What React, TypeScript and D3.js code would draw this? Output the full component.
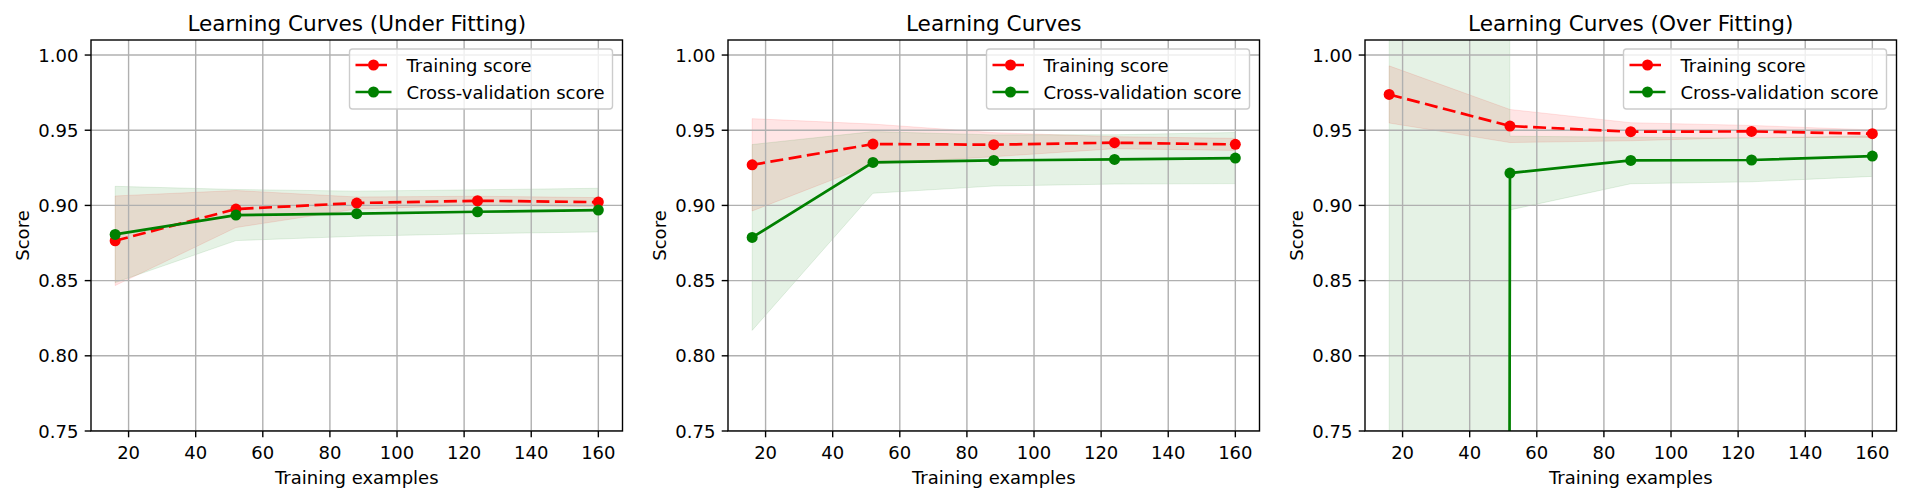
import * as d3 from "d3";
import { useRef, useEffect } from "react";

const trainSizes = [16, 52, 88, 124, 160];
const titles = [
  "Learning Curves (Under Fitting)",
  "Learning Curves",
  "Learning Curves (Over Fitting)",
];
const xTicks = [20, 40, 60, 80, 100, 120, 140, 160];
const yTicks = [0.75, 0.8, 0.85, 0.9, 0.95, 1.0];
const legendLabels = ["Training score", "Cross-validation score"];

// under fitting
const underTrainMean = [0.8765, 0.8976, 0.9016, 0.9031, 0.9022];
const underTrainStd = [0.0298, 0.0123, 0.004, 0.003, 0.003];
const underTestMean = [0.8807, 0.8936, 0.8945, 0.8958, 0.8969];
const underTestStd = [0.032, 0.017, 0.015, 0.0146, 0.0145];

// good fit
const fitTrainMean = [0.927, 0.9408, 0.9404, 0.9417, 0.9406];
const fitTrainStd = [0.0307, 0.0133, 0.008, 0.004, 0.004];
const fitTestMean = [0.8787, 0.9286, 0.9299, 0.9306, 0.9315];
const fitTestStd = [0.0618, 0.0205, 0.017, 0.0164, 0.017];

// over fitting (first cv score is far off the chart)
const overTrainMean = [0.9738, 0.9528, 0.949, 0.9492, 0.9477];
const overTrainStd = [0.019, 0.011, 0.006, 0.004, 0.0025];
const overTestMean = [-50, 0.9215, 0.9299, 0.9302, 0.9328];
const overTestStd = [100, 0.0245, 0.0155, 0.0145, 0.0135];

const panels = [
  { title: titles[0], trainMean: underTrainMean, trainStd: underTrainStd, testMean: underTestMean, testStd: underTestStd },
  { title: titles[1], trainMean: fitTrainMean, trainStd: fitTrainStd, testMean: fitTestMean, testStd: fitTestStd },
  { title: titles[2], trainMean: overTrainMean, trainStd: overTrainStd, testMean: overTestMean, testStd: overTestStd },
];

const lefts = [91, 728, 1365];
const axWidth = 531.5;
const top = 40;
const bottom = 431;
const font = "DejaVu Sans, sans-serif";
const fs = 18;
const lineW = 2.7;
const dash = "13,5.5";

export default function App() {
  const ref = useRef(null);

  useEffect(() => {
    const svg = d3.select(ref.current);
    svg.selectAll("*").remove();
    svg.append("rect").attr("width", 1911).attr("height", 500).attr("fill", "white");

    const xMin = d3.min(trainSizes);
    const xMax = d3.max(trainSizes);
    const pad = (xMax - xMin) * 0.05;

    panels.forEach((p, i) => {
      const left = lefts[i];
      const right = left + axWidth;
      const x = d3.scaleLinear().domain([xMin - pad, xMax + pad]).range([left, right]);
      const y = d3.scaleLinear().domain([0.75, 1.01]).range([bottom, top]);

      const g = svg.append("g");
      const clipId = "clip" + i;
      g.append("clipPath")
        .attr("id", clipId)
        .append("rect")
        .attr("x", left)
        .attr("y", top)
        .attr("width", axWidth)
        .attr("height", bottom - top);

      const plot = g.append("g").attr("clip-path", `url(#${clipId})`);

      const rows = trainSizes.map((s, k) => ({
        s,
        tr: p.trainMean[k],
        trs: p.trainStd[k],
        te: p.testMean[k],
        tes: p.testStd[k],
      }));

      const bandTrain = d3.area().x((d) => x(d.s)).y0((d) => y(d.tr - d.trs)).y1((d) => y(d.tr + d.trs));
      const bandTest = d3.area().x((d) => x(d.s)).y0((d) => y(d.te - d.tes)).y1((d) => y(d.te + d.tes));

      plot.append("path").attr("d", bandTrain(rows))
        .attr("fill", "rgba(255,0,0,0.1)").attr("stroke", "rgba(255,0,0,0.1)").attr("stroke-width", 1);
      plot.append("path").attr("d", bandTest(rows))
        .attr("fill", "rgba(0,128,0,0.1)").attr("stroke", "rgba(0,128,0,0.1)").attr("stroke-width", 1);

      // grid
      plot.selectAll(".gx").data(xTicks).enter().append("line")
        .attr("x1", (d) => x(d)).attr("x2", (d) => x(d)).attr("y1", top).attr("y2", bottom)
        .attr("stroke", "#b0b0b0").attr("stroke-width", 1.4);
      plot.selectAll(".gy").data(yTicks).enter().append("line")
        .attr("y1", (d) => y(d)).attr("y2", (d) => y(d)).attr("x1", left).attr("x2", right)
        .attr("stroke", "#b0b0b0").attr("stroke-width", 1.4);

      const lineTrain = d3.line().x((d) => x(d.s)).y((d) => y(d.tr));
      const lineTest = d3.line().x((d) => x(d.s)).y((d) => y(d.te));

      plot.append("path").attr("d", lineTrain(rows)).attr("fill", "none")
        .attr("stroke", "#ff0000").attr("stroke-width", lineW).attr("stroke-dasharray", dash);
      plot.selectAll(".mt").data(rows).enter().append("circle")
        .attr("cx", (d) => x(d.s)).attr("cy", (d) => y(d.tr)).attr("r", 5.5).attr("fill", "#ff0000");

      plot.append("path").attr("d", lineTest(rows)).attr("fill", "none")
        .attr("stroke", "#008000").attr("stroke-width", lineW);
      plot.selectAll(".mc").data(rows).enter().append("circle")
        .attr("cx", (d) => x(d.s)).attr("cy", (d) => y(d.te)).attr("r", 5.5).attr("fill", "#008000");

      // spines
      g.append("rect").attr("x", left).attr("y", top).attr("width", axWidth).attr("height", bottom - top)
        .attr("fill", "none").attr("stroke", "#000").attr("stroke-width", 1.4);

      // ticks
      xTicks.forEach((t) => {
        g.append("line").attr("x1", x(t)).attr("x2", x(t)).attr("y1", bottom).attr("y2", bottom + 6.3)
          .attr("stroke", "#000").attr("stroke-width", 1.4);
        g.append("text").attr("x", x(t)).attr("y", bottom + 27.5).attr("text-anchor", "middle")
          .attr("font-family", font).attr("font-size", fs).attr("fill", "#000").text(t);
      });
      yTicks.forEach((t) => {
        g.append("line").attr("x1", left - 6.3).attr("x2", left).attr("y1", y(t)).attr("y2", y(t))
          .attr("stroke", "#000").attr("stroke-width", 1.4);
        g.append("text").attr("x", left - 12.6).attr("y", y(t) + 6.5).attr("text-anchor", "end")
          .attr("font-family", font).attr("font-size", fs).attr("fill", "#000").text(d3.format(".2f")(t));
      });

      g.append("text").attr("x", (left + right) / 2).attr("y", 31).attr("text-anchor", "middle")
        .attr("font-family", font).attr("font-size", 21.6).attr("fill", "#000").text(p.title);
      g.append("text").attr("x", (left + right) / 2).attr("y", 484).attr("text-anchor", "middle")
        .attr("font-family", font).attr("font-size", fs).attr("fill", "#000").text("Training examples");
      g.append("text").attr("transform", `translate(${left - 62},${(top + bottom) / 2}) rotate(-90)`)
        .attr("text-anchor", "middle").attr("font-family", font).attr("font-size", fs).attr("fill", "#000")
        .text("Score");

      // legend
      const lw = 263;
      const lx = right - 10 - lw;
      const ly = top + 9;
      const leg = g.append("g");
      leg.append("rect").attr("x", lx).attr("y", ly).attr("width", lw).attr("height", 60).attr("rx", 3)
        .attr("fill", "rgba(255,255,255,0.8)").attr("stroke", "#cccccc").attr("stroke-width", 1.4);
      legendLabels.forEach((lab, k) => {
        const cy = ly + 16 + k * 27;
        const col = k === 0 ? "#ff0000" : "#008000";
        leg.append("line").attr("x1", lx + 6).attr("x2", lx + 42).attr("y1", cy).attr("y2", cy)
          .attr("stroke", col).attr("stroke-width", lineW).attr("stroke-dasharray", k === 0 ? dash : null);
        leg.append("circle").attr("cx", lx + 24).attr("cy", cy).attr("r", 5.5).attr("fill", col);
        leg.append("text").attr("x", lx + 57).attr("y", cy + 6.5).attr("font-family", font)
          .attr("font-size", fs).attr("fill", "#000").text(lab);
      });
    });
  }, []);

  return (
    <svg
      ref={ref}
      width={1911}
      height={500}
      style={{ position: "absolute", left: 0, top: 0 }}
    ></svg>
  );
}
